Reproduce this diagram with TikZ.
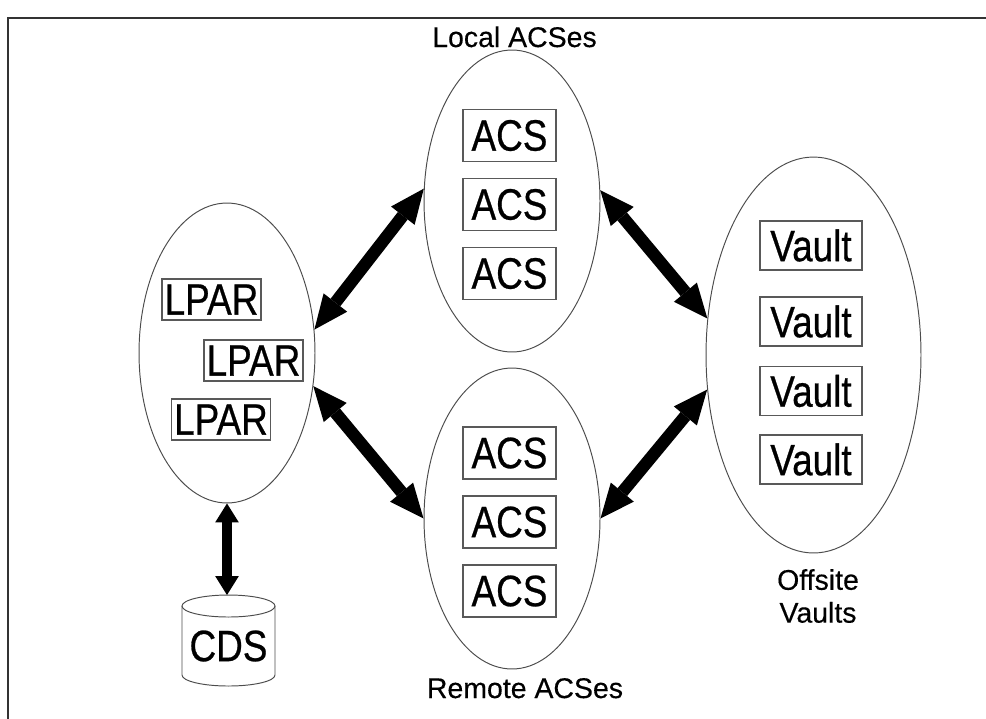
\documentclass[tikz,border=0pt]{standalone}
\usepackage{fontspec}
\setmainfont{Liberation Sans}
\newfontfamily\boxfont[FakeStretch=0.84,FakeBold=0.6]{Liberation Sans}
\newfontfamily\labfont[FakeBold=0.3]{Liberation Sans}
\usetikzlibrary{arrows.meta,shapes.geometric}
\tikzset{
  frame/.style={draw=black!80, line width=1.13pt},
  oval/.style={ellipse, draw=black!70, line width=0.55pt, inner sep=0pt},
  unitbox/.style={draw=black!65, line width=0.6pt, inner sep=0pt, font=\boxfont\fontsize{25}{29}\selectfont},
  acsbox/.style={unitbox, minimum width=1.86cm, minimum height=1.04cm},
  lparbox/.style={unitbox, minimum width=1.98cm, minimum height=0.82cm},
  vaultbox/.style={unitbox, minimum width=2.04cm, minimum height=0.98cm},
  lab/.style={font=\labfont\fontsize{16.2}{18.7}\selectfont, inner sep=0pt},
  cyl/.style={draw=black!70, line width=0.55pt},
  bigarrow/.style={line width=7pt, {Triangle[length=19.5pt,width=17pt,line width=0pt]}-{Triangle[length=19.5pt,width=17pt,line width=0pt]}},
  cdsarrow/.style={line width=5.7pt, {Triangle[length=10.8pt,width=13.5pt,line width=0pt]}-{Triangle[length=10.8pt,width=13.5pt,line width=0pt]}}
}
\begin{document}
\begin{tikzpicture}[x=0.02cm,y=-0.02cm]
\useasboundingbox (0,0) rectangle (986,718);
\draw[frame] (8,18) rectangle (1000,730);

% ellipses
\node[oval, minimum width=3.52cm, minimum height=6.0cm] (L) at (227,353) {};
\node[oval, minimum width=3.52cm, minimum height=6.04cm] (U) at (512,201) {};
\node[oval, minimum width=3.52cm, minimum height=6.02cm] (R) at (512,518.5) {};
\node[oval, minimum width=4.3cm, minimum height=7.92cm] (V) at (813.5,355) {};

% LPAR boxes
\node[lparbox] (lp1) at (211.5,299.5) {LPAR};
\node[lparbox] (lp2) at (253.5,360.5) {LPAR};
\node[lparbox] (lp3) at (221,419.5) {LPAR};

% Local ACS boxes
\node[acsbox] (la1) at (509.5,135.5) {ACS};
\node[acsbox] (la2) at (509.5,204.5) {ACS};
\node[acsbox] (la3) at (509.5,273.5) {ACS};

% Remote ACS boxes
\node[acsbox] (ra1) at (509.5,453) {ACS};
\node[acsbox] (ra2) at (509.5,522) {ACS};
\node[acsbox] (ra3) at (509.5,591) {ACS};

% Vault boxes
\node[vaultbox] (v1) at (811,245.5) {Vault};
\node[vaultbox] (v2) at (811,321.5) {Vault};
\node[vaultbox] (v3) at (811,391) {Vault};
\node[vaultbox] (v4) at (811,459.5) {Vault};

% CDS cylinder
\draw[cyl] (182,606) -- (182,675) arc[start angle=180, end angle=0, x radius=46.5, y radius=11] -- (275,606);
\draw[cyl] (228.5,606) ellipse[x radius=46.5, y radius=11];
\node[font=\boxfont\fontsize{25}{29}\selectfont, inner sep=0pt] (cds) at (228.5,646) {CDS};
\coordinate (cdstop) at (227,595);

% labels
\node[lab, anchor=base] (loclab) at (514.5,47) {Local ACSes};
\node[lab, anchor=base] (remlab) at (525,698) {Remote ACSes};
\node[lab, align=center] (offlab) at (818,596) {Offsite\\Vaults};

% arrows
\draw[bigarrow] (L.15.9) -- (U.172.5);
\draw[bigarrow] (U.7) -- (V.161);
\draw[bigarrow] (L.-21.2) -- (R.180);
\draw[bigarrow] (R.0) -- (V.198.5);
\draw[cdsarrow] (L.south) -- (cdstop);
\end{tikzpicture}
\end{document}
